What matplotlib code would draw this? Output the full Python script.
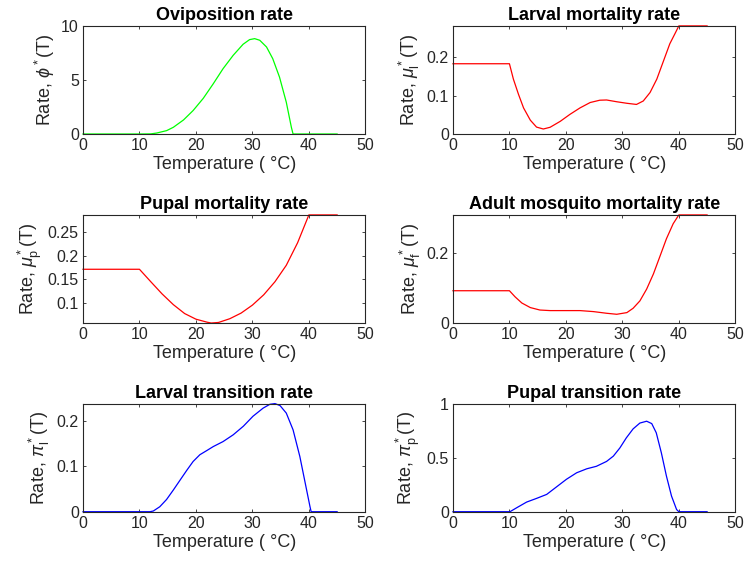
import matplotlib
matplotlib.use("Agg")
import matplotlib.pyplot as plt
from matplotlib.ticker import FormatStrFormatter

plt.rcParams['font.family'] = ['Liberation Sans', 'DejaVu Sans']
plt.rcParams['mathtext.fontset'] = 'custom'
plt.rcParams['mathtext.rm'] = 'Liberation Sans'
plt.rcParams['mathtext.it'] = 'Liberation Sans:italic'

# values, temperature in degC
t_ovi = [0, 10, 12, 13.06, 14.8, 16, 17.8, 19.5, 21.3, 23.06, 24.8, 26.6, 28.35, 29.5, 30.4,
         31.3, 32.5, 33.6, 34.8, 36, 36.9, 37.2, 45]
ovi = [0, 0, 0.01, 0.09, 0.31, 0.62, 1.3, 2.17, 3.3, 4.64, 6.04, 7.28, 8.3, 8.73, 8.82,
       8.67, 8.05, 6.97, 5.26, 2.94, 0.62, 0, 0]

t_ml = [0, 10, 10.7, 11.6, 12.5, 13.7, 14.8, 16, 17.2, 19, 20.7, 22.5, 24.3, 26, 27.2, 29,
        30.8, 32.5, 33.7, 34.9, 36.1, 37.3, 38.4, 39.3, 40, 45]
mu_l = [0.183, 0.183, 0.143, 0.1035, 0.068, 0.036, 0.018, 0.013, 0.0175, 0.033, 0.051, 0.068,
        0.082, 0.088, 0.0886, 0.084, 0.080, 0.077, 0.086, 0.108, 0.143, 0.191, 0.235, 0.261,
        0.2816, 0.2816]

t_mp = [0, 10, 12, 14, 16, 18, 20, 22, 22.7, 24, 26, 28, 30, 32, 34, 36, 38, 40, 45]
mu_p = [0.1715, 0.1715, 0.145, 0.119, 0.096, 0.077, 0.065, 0.0585, 0.0568, 0.058, 0.066, 0.078,
        0.095, 0.117, 0.145, 0.180, 0.228, 0.2875, 0.2875]

t_mf = [0, 10, 11, 12.2, 13.7, 15.4, 17.2, 20.1, 22.5, 24.9, 27.2, 29, 30.8, 31.9, 33.1, 34.3,
        35.5, 36.7, 37.8, 39, 40, 45]
mu_f = [0.092, 0.092, 0.0746, 0.057, 0.044, 0.037, 0.0354, 0.0354, 0.0354, 0.0325, 0.0278,
        0.0249, 0.0297, 0.042, 0.063, 0.0967, 0.140, 0.192, 0.240, 0.283, 0.308, 0.308]

t_pl = [0, 11.86, 12.45, 13.6, 14.8, 16, 17.2, 18.35, 19.5, 20.7, 21.9, 23.07, 24.8, 26.6,
        28.4, 30.1, 31.9, 33.1, 34, 34.9, 36, 37.2, 38.4, 39.6, 40.2, 40.4, 45]
pi_l = [0, 0, 0.0015, 0.011, 0.027, 0.048, 0.070, 0.091, 0.111, 0.126, 0.135, 0.144, 0.155,
        0.170, 0.189, 0.211, 0.229, 0.2375, 0.239, 0.2345, 0.218, 0.181, 0.122, 0.048, 0.011,
        0, 0]

t_pp = [0, 10.1, 11.3, 13.04, 14.8, 16.6, 18.35, 20.1, 21.9, 23.7, 25.4, 27.2, 28.4, 29.56,
        30.7, 31.9, 33.1, 34.3, 35.2, 36, 36.9, 37.8, 38.7, 39.6, 40, 45]
pi_p = [0, 0, 0.037, 0.089, 0.123, 0.16, 0.23, 0.30, 0.36, 0.397, 0.42, 0.465, 0.514, 0.59,
        0.683, 0.766, 0.82, 0.837, 0.815, 0.73, 0.545, 0.33, 0.145, 0.02, 0, 0]

panels = [
    ("Oviposition rate", t_ovi, ovi, "#00ff00", r"Rate, $\phi^*$(T)", (0, 10), [0, 5, 10]),
    ("Larval mortality rate", t_ml, mu_l, "#ff0000", r"Rate, $\mu_\mathrm{l}^*$(T)",
     (0, 0.2816), [0, 0.1, 0.2]),
    ("Pupal mortality rate", t_mp, mu_p, "#ff0000", r"Rate, $\mu_\mathrm{p}^*$(T)",
     (0.0568, 0.2875), [0.1, 0.15, 0.2, 0.25]),
    ("Adult mosquito mortality rate", t_mf, mu_f, "#ff0000", r"Rate, $\mu_\mathrm{f}^*$(T)",
     (0, 0.308), [0, 0.2]),
    ("Larval transition rate", t_pl, pi_l, "#0000ff", r"Rate, $\pi_\mathrm{l}^*$(T)",
     (0, 0.239), [0, 0.1, 0.2]),
    ("Pupal transition rate", t_pp, pi_p, "#0000ff", r"Rate, $\pi_\mathrm{p}^*$(T)",
     (0, 1), [0, 0.5, 1]),
]

fig = plt.figure(figsize=(7.45, 5.69), dpi=100)
lefts = [0.1114, 0.608]
bottoms = [0.7645, 0.4323, 0.1007]
w, h = 0.379, 0.19
grey = (0.15, 0.15, 0.15)

for i, (title, t, v, col, ylab, ylim, yt) in enumerate(panels):
    ax = fig.add_axes([lefts[i % 2], bottoms[i // 2], w, h])
    ax.plot(t, v, color=col, lw=0.9, clip_on=False)
    ax.set_xlim(0, 50)
    ax.set_ylim(*ylim)
    ax.set_xticks([0, 10, 20, 30, 40, 50])
    ax.set_yticks(yt)
    ax.yaxis.set_major_formatter(FormatStrFormatter('%g'))
    ax.tick_params(direction='in', top=True, right=True, length=2.5, width=0.6,
                   labelsize=11.5, colors=grey, pad=3)
    for s in ax.spines.values():
        s.set_color(grey)
        s.set_linewidth(0.8)
    ax.set_title(title, fontsize=13, fontweight='bold', pad=4)
    ax.set_xlabel("Temperature ( °C)", fontsize=13, color=grey, labelpad=2)
    ax.set_ylabel(ylab, fontsize=13, color=grey, labelpad=3)

fig.savefig("out.png", dpi=100)
